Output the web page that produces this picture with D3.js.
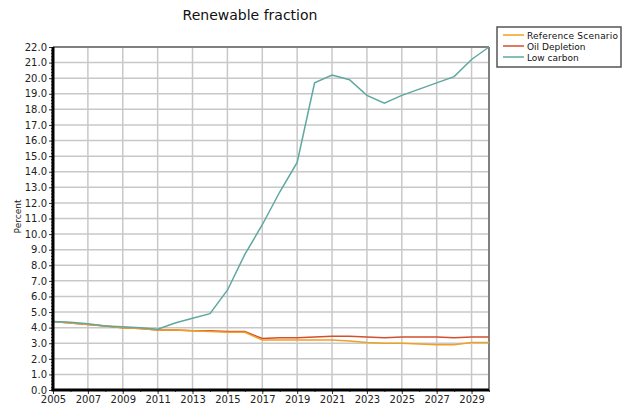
<!DOCTYPE html>
<html>
<head>
<meta charset="utf-8">
<script src="https://cdn.jsdelivr.net/npm/d3@7"></script>
<style>
body { margin: 0; background: #fff; }
text { font-family: "DejaVu Sans", Verdana, sans-serif; }
</style>
</head>
<body>
<div id="chart"></div>
<script>
var years = d3.range(2005, 2031);
var seriesNames = ["Reference Scenario", "Oil Depletion", "Low carbon"];
var seriesColors = ["#f0a022", "#d2502e", "#5fa8a0"];
var referenceScenario = [4.4, 4.3, 4.2, 4.1, 4.0, 3.95, 3.85, 3.85, 3.8, 3.75, 3.7, 3.7, 3.2, 3.2, 3.2, 3.2, 3.2, 3.15, 3.05, 3.0, 3.0, 2.95, 2.9, 2.9, 3.05, 3.05];
var oilDepletion = [4.4, 4.3, 4.2, 4.1, 4.0, 3.95, 3.85, 3.85, 3.8, 3.8, 3.75, 3.75, 3.3, 3.35, 3.35, 3.4, 3.45, 3.45, 3.4, 3.35, 3.4, 3.4, 3.4, 3.35, 3.4, 3.4];
var lowCarbon = [4.4, 4.35, 4.25, 4.1, 4.05, 4.0, 3.9, 4.3, 4.6, 4.9, 6.4, 8.7, 10.6, 12.7, 14.6, 19.7, 20.2, 19.9, 18.9, 18.4, 18.9, 19.3, 19.7, 20.1, 21.2, 22.0];
var allSeries = [referenceScenario, oilDepletion, lowCarbon];
var xTickYears = d3.range(2005, 2030, 2);
var yTicks = d3.range(0, 22.01, 1);

var width = 623, height = 407;
var margin = { top: 47, right: 134, bottom: 17, left: 53 };
var w = width - margin.left - margin.right,
    h = height - margin.top - margin.bottom;

var svg = d3.select("#chart").append("svg")
    .attr("width", width)
    .attr("height", height);

var x = d3.scaleLinear().domain([2005, 2030]).range([0, w]);
var y = d3.scaleLinear().domain([0, 22]).range([h, 0]);

var g = svg.append("g")
    .attr("transform", "translate(" + margin.left + "," + margin.top + ")");

// grid
g.selectAll(".hgrid").data(yTicks).enter().append("line")
    .attr("x1", 0).attr("x2", w)
    .attr("y1", function (d) { return y(d); })
    .attr("y2", function (d) { return y(d); })
    .attr("stroke", "#c8c8c8").attr("stroke-width", 1.5);
g.selectAll(".vgrid").data(xTickYears).enter().append("line")
    .attr("y1", 0).attr("y2", h)
    .attr("x1", function (d) { return x(d); })
    .attr("x2", function (d) { return x(d); })
    .attr("stroke", "#c8c8c8").attr("stroke-width", 1.5);

// top/right frame
g.append("line").attr("x1", 0).attr("x2", w).attr("y1", 0).attr("y2", 0)
    .attr("stroke", "#808080").attr("stroke-width", 2);
g.append("line").attr("x1", w).attr("x2", w).attr("y1", 0).attr("y2", h)
    .attr("stroke", "#808080").attr("stroke-width", 2);

// lines
var line = d3.line()
    .x(function (d, i) { return x(years[i]); })
    .y(function (d) { return y(d); });

[1, 0, 2].forEach(function (k) {
    g.append("path")
        .datum(allSeries[k])
        .attr("fill", "none")
        .attr("stroke", seriesColors[k])
        .attr("stroke-width", 1.5)
        .attr("d", line);
});

// y axis
var yAxis = g.append("g")
    .call(d3.axisLeft(y).tickValues(yTicks).tickFormat(d3.format(".1f")).tickSize(4));
yAxis.append("g").call(d3.axisLeft(y).tickValues(d3.range(0, 22.01, 0.2)).tickFormat("").tickSize(2));
yAxis.selectAll(".domain").remove();
yAxis.selectAll("text").attr("font-size", 10).attr("fill", "#222").attr("dx", 1);
yAxis.selectAll("line").attr("stroke", "#333");
g.append("line").attr("x1", 0).attr("x2", 0).attr("y1", 0).attr("y2", h + 1)
    .attr("stroke", "#000").attr("stroke-width", 3);

// x axis
var xAxis = g.append("g").attr("transform", "translate(0," + h + ")")
    .call(d3.axisBottom(x).tickValues(xTickYears).tickFormat(d3.format("d")).tickSize(4));
xAxis.append("g").call(d3.axisBottom(x).tickValues(years).tickFormat("").tickSize(2));
xAxis.selectAll(".domain").remove();
xAxis.selectAll("text").attr("font-size", 10).attr("fill", "#222").attr("dy", "0.6em");
xAxis.selectAll("line").attr("stroke", "#333");
g.append("line").attr("x1", -1.5).attr("x2", w).attr("y1", h).attr("y2", h)
    .attr("stroke", "#000").attr("stroke-width", 3);

// title
svg.append("text")
    .attr("x", 250).attr("y", 20)
    .attr("text-anchor", "middle")
    .attr("font-size", 14)
    .attr("fill", "#111")
    .text("Renewable fraction");

// y label
svg.append("text")
    .attr("transform", "translate(21," + (margin.top + h / 2 - 2) + ") rotate(-90)")
    .attr("text-anchor", "middle")
    .attr("font-size", 9)
    .attr("fill", "#222")
    .text("Percent");

// legend
var legend = svg.append("g").attr("transform", "translate(497,27)");
legend.append("rect")
    .attr("width", 124).attr("height", 40)
    .attr("fill", "#fff").attr("stroke", "#555").attr("stroke-width", 1.5);
seriesNames.forEach(function (name, i) {
    var row = legend.append("g").attr("transform", "translate(6," + (8 + i * 11) + ")");
    row.append("line").attr("x1", 0).attr("x2", 21).attr("y1", 0).attr("y2", 0)
        .attr("stroke", seriesColors[i]).attr("stroke-width", 1.5);
    row.append("text").attr("x", 24).attr("y", 3.5)
        .attr("font-size", 9).attr("textLength", i == 0 ? 91 : null)
        .attr("fill", "#111").text(name);
});
</script>
</body>
</html>
